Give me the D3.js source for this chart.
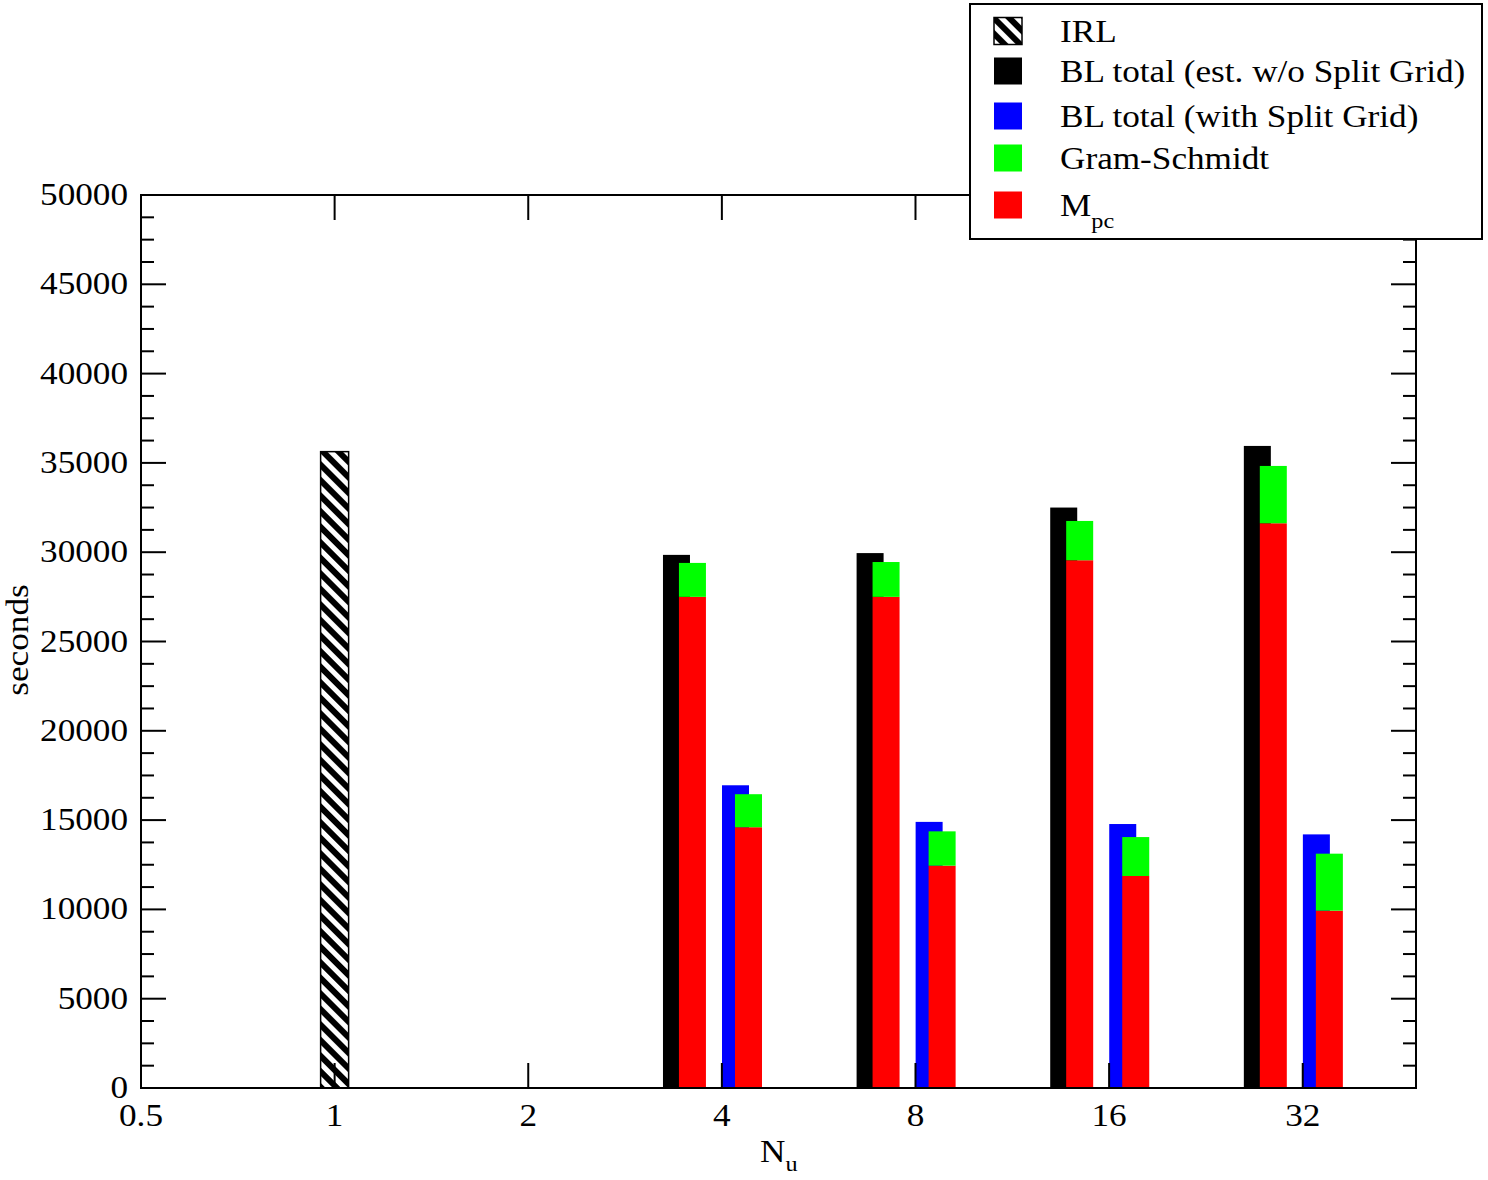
<!DOCTYPE html>
<html>
<head>
<meta charset="utf-8">
<script src="https://cdn.jsdelivr.net/npm/d3@7"></script>
<style>
  html, body { margin: 0; padding: 0; background: #fff; }
  svg { display: block; }
  text { font-family: "Liberation Serif", "Times New Roman", serif; fill: #000; }
</style>
</head>
<body>
<svg id="chart" width="1488" height="1180"></svg>
<script>
// ---- data ----
const categories = [4, 8, 16, 32];
const irlX = 1;
const irlValue = 35630;
const blTotalNoSplit = [29850, 29950, 32500, 35950];
const mpcNoSplit = [27500, 27500, 29550, 31620];
const gramSchmidtNoSplit = [1900, 1950, 2200, 3210];
const blTotalSplit = [16950, 14900, 14780, 14200];
const mpcSplit = [14600, 12450, 11870, 9930];
const gramSchmidtSplit = [1850, 1920, 2180, 3190];
const xTickValues = [0.5, 1, 2, 4, 8, 16, 32];
const yTickValues = [0, 5000, 10000, 15000, 20000, 25000, 30000, 35000, 40000, 45000, 50000];
const legendLabels = ["IRL", "BL total (est. w/o Split Grid)", "BL total (with Split Grid)", "Gram-Schmidt", "M"];

// ---- layout ----
const L = 141, R = 1416, T = 195, B = 1088;
const barW = 27;
const TXT_SX = 1.1;
const FS = 32;

const svg = d3.select("#chart");
const x = d3.scaleLog().base(2).domain([0.5, 48]).range([L, R]);
const y = d3.scaleLinear().domain([0, 50000]).range([B, T]);

const defs = svg.append("defs");
const pat = defs.append("pattern")
  .attr("id", "hatch").attr("patternUnits", "userSpaceOnUse")
  .attr("width", 11).attr("height", 11)
  .attr("patternTransform", "rotate(-45)");
pat.append("rect").attr("width", 11).attr("height", 11).attr("fill", "#000");
pat.append("rect").attr("width", 5).attr("height", 11).attr("fill", "#fff");

function txt(sel, xx, yy, s, anchor, fs) {
  return sel.append("text")
    .attr("transform", `translate(${xx},${yy}) scale(${TXT_SX},1)`)
    .attr("text-anchor", anchor || "start")
    .attr("font-size", fs || FS)
    .text(s);
}

const plot = svg.append("g");

// offsets (positioning) for the four bar columns in each group
const offBlack = 0.85, offStack1 = 0.9, offBlue = 1.05, offStack2 = 1.1;

function barRect(g, cx, v0, v1, fill) {
  g.append("rect")
    .attr("x", x(cx) - barW / 2)
    .attr("width", barW)
    .attr("y", y(v1))
    .attr("height", y(v0) - y(v1))
    .attr("fill", fill);
}

// IRL bar
plot.append("rect")
  .attr("x", x(irlX) - barW / 2 - 0.5)
  .attr("width", barW + 1)
  .attr("y", y(irlValue))
  .attr("height", y(0) - y(irlValue))
  .attr("fill", "url(#hatch)")
  .attr("stroke", "#000").attr("stroke-width", 1.5);

const stackKeys = ["mpc", "gs"];
const stackColors = { mpc: "#ff0000", gs: "#00ff00" };
const stackNo = d3.stack().keys(stackKeys)(categories.map((c, i) => ({ c, mpc: mpcNoSplit[i], gs: gramSchmidtNoSplit[i] })));
const stackSp = d3.stack().keys(stackKeys)(categories.map((c, i) => ({ c, mpc: mpcSplit[i], gs: gramSchmidtSplit[i] })));

categories.forEach((c, i) => {
  barRect(plot, c * offBlack, 0, blTotalNoSplit[i], "#000000");
  stackNo.forEach(layer => barRect(plot, c * offStack1, layer[i][0], layer[i][1], stackColors[layer.key]));
  barRect(plot, c * offBlue, 0, blTotalSplit[i], "#0000ff");
  stackSp.forEach(layer => barRect(plot, c * offStack2, layer[i][0], layer[i][1], stackColors[layer.key]));
});

// frame
const ax = svg.append("g").attr("stroke", "#000").attr("stroke-width", 2);
ax.append("rect").attr("x", L).attr("y", T).attr("width", R - L).attr("height", B - T).attr("fill", "none");

// y ticks major & minor (left + right, inward)
const yMinor = d3.range(0, 50001, 1250).filter(v => v % 5000 !== 0);
yTickValues.forEach(v => {
  ax.append("line").attr("x1", L).attr("x2", L + 25).attr("y1", y(v)).attr("y2", y(v));
  ax.append("line").attr("x1", R).attr("x2", R - 25).attr("y1", y(v)).attr("y2", y(v));
});
yMinor.forEach(v => {
  ax.append("line").attr("x1", L).attr("x2", L + 13).attr("y1", y(v)).attr("y2", y(v));
  ax.append("line").attr("x1", R).attr("x2", R - 13).attr("y1", y(v)).attr("y2", y(v));
});
// x ticks (bottom + top, inward)
xTickValues.forEach(v => {
  ax.append("line").attr("x1", x(v)).attr("x2", x(v)).attr("y1", B).attr("y2", B - 25);
  ax.append("line").attr("x1", x(v)).attr("x2", x(v)).attr("y1", T).attr("y2", T + 25);
});

// tick labels
const lab = svg.append("g");
yTickValues.forEach(v => txt(lab, 128, y(v) + 10, String(v), "end"));
xTickValues.forEach(v => txt(lab, x(v), 1126, String(v), "middle"));

// axis titles
svg.append("text")
  .attr("transform", `translate(28,640) rotate(-90) scale(${TXT_SX},1)`)
  .attr("text-anchor", "middle").attr("font-size", FS).text("seconds");
const nt = svg.append("text")
  .attr("transform", `translate(760,1162) scale(${TXT_SX},1)`)
  .attr("font-size", FS);
nt.append("tspan").text("N");
nt.append("tspan").attr("font-size", 22).attr("dy", 9).text("u");

// legend
const lg = svg.append("g");
lg.append("rect").attr("x", 970).attr("y", 4).attr("width", 512).attr("height", 235)
  .attr("fill", "#fff").attr("stroke", "#000").attr("stroke-width", 2);
const legendFills = ["url(#hatch)", "#000000", "#0000ff", "#00ff00", "#ff0000"];
const legendCY = [31, 71, 116, 158, 205];
legendLabels.forEach((s, i) => {
  lg.append("rect").attr("x", 994).attr("y", legendCY[i] - 13.5).attr("width", 28).attr("height", 27)
    .attr("fill", legendFills[i])
    .attr("stroke", i === 0 ? "#000" : "none").attr("stroke-width", 1.5);
  const t = txt(lg, 1060, legendCY[i] + 11, s, "start");
  if (i === 4) {
    t.append("tspan").attr("font-size", 22).attr("dy", 12).text("pc");
  }
});
</script>
</body>
</html>
